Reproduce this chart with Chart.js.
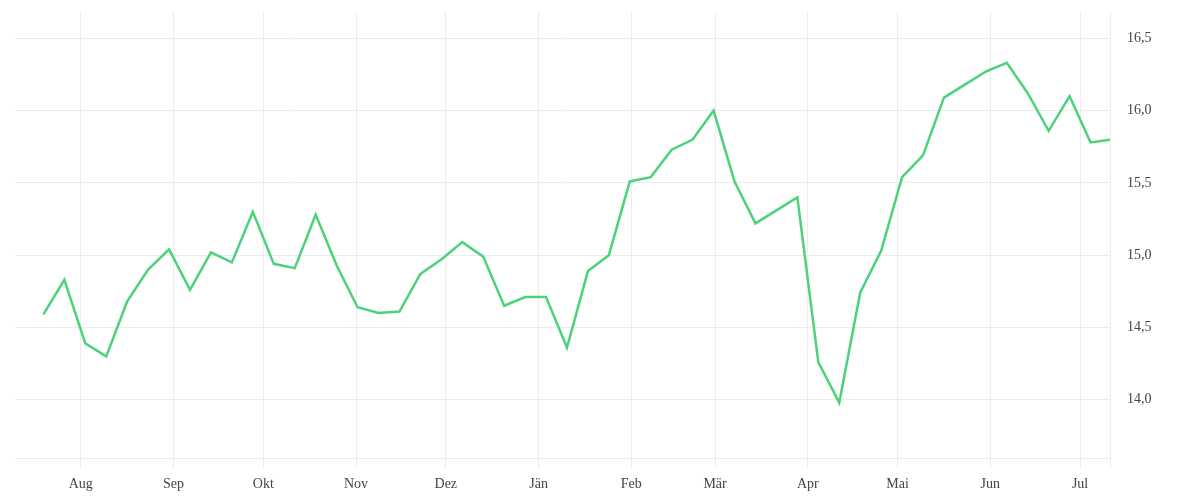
<!DOCTYPE html>
<html>
<head>
<meta charset="utf-8">
<script src="https://cdn.jsdelivr.net/npm/chart.js@4.4.0/dist/chart.umd.min.js"></script>
<style>
  html, body { margin: 0; padding: 0; background: #ffffff; }
  #wrap { width: 1200px; height: 500px; }
</style>
</head>
<body>
<div id="wrap"><canvas id="c" width="1200" height="500"></canvas></div>
<script>
// ---- data ----
const dates = [
  '2022-07-19','2022-07-26','2022-08-02','2022-08-09','2022-08-16','2022-08-23','2022-08-30',
  '2022-09-06','2022-09-13','2022-09-20','2022-09-27','2022-10-04','2022-10-11','2022-10-18',
  '2022-10-25','2022-11-01','2022-11-08','2022-11-15','2022-11-22','2022-11-29','2022-12-06',
  '2022-12-13','2022-12-20','2022-12-27','2023-01-03','2023-01-10','2023-01-17','2023-01-24',
  '2023-01-31','2023-02-07','2023-02-14','2023-02-21','2023-02-28','2023-03-07','2023-03-14',
  '2023-03-21','2023-03-28','2023-04-04','2023-04-11','2023-04-18','2023-04-25','2023-05-02',
  '2023-05-09','2023-05-16','2023-05-23','2023-05-30','2023-06-06','2023-06-13','2023-06-20',
  '2023-06-27','2023-07-04','2023-07-11'
];
const values = [
  14.59, 14.83, 14.39, 14.30, 14.68, 14.90, 15.04,
  14.76, 15.02, 14.95, 15.30, 14.94, 14.91, 15.28,
  14.93, 14.64, 14.60, 14.61, 14.87, 14.97, 15.09,
  14.99, 14.65, 14.71, 14.71, 14.36, 14.89, 15.00,
  15.51, 15.54, 15.73, 15.80, 16.00, 15.51, 15.22,
  15.31, 15.40, 14.26, 13.98, 14.74, 15.03, 15.54,
  15.69, 16.09, 16.18, 16.27, 16.33, 16.12, 15.86,
  16.10, 15.78, 15.80
];
const monthTickDates = [
  '2022-08-01','2022-09-01','2022-10-01','2022-11-01','2022-12-01','2023-01-01',
  '2023-02-01','2023-03-01','2023-04-01','2023-05-01','2023-06-01','2023-07-01'
];
const monthLabels = ['Aug','Sep','Okt','Nov','Dez','Jän','Feb','Mär','Apr','Mai','Jun','Jul'];
const xRange = ['2022-07-10', '2023-07-11'];
const yTicks = [14.0, 14.5, 15.0, 15.5, 16.0, 16.5];
const yRange = [13.597, 16.682];

// ---- helpers ----
function ts(s, hour) {
  const p = s.split('-').map(Number);
  return Date.UTC(p[0], p[1] - 1, p[2], hour || 0);
}
const points = dates.map((d, i) => ({ x: ts(d, 12), y: values[i] }));
const monthTicks = monthTickDates.map(d => ts(d));
const xMin = ts(xRange[0]);
const xMax = ts(xRange[1]);

const GRID = '#ececec';
const FONT = { family: "'Liberation Serif', serif", size: 14 };
const TEXT = '#444444';

new Chart(document.getElementById('c'), {
  type: 'line',
  data: {
    datasets: [{
      data: points,
      borderColor: '#4dd27c',
      borderWidth: 2.5,
      pointRadius: 0,
      pointHoverRadius: 0,
      tension: 0,
      fill: false
    }]
  },
  options: {
    responsive: false,
    animation: false,
    events: [],
    layout: { padding: { left: 15, top: 12, right: 0, bottom: 0 } },
    plugins: { legend: { display: false }, tooltip: { enabled: false } },
    scales: {
      x: {
        type: 'linear',
        min: xMin,
        max: xMax,
        grid: { color: GRID, tickColor: GRID, tickLength: 10, drawTicks: true },
        border: { display: true, color: GRID },
        ticks: {
          font: FONT,
          color: TEXT,
          padding: 8,
          autoSkip: false,
          maxRotation: 0,
          callback: function (v) {
            const i = monthTicks.indexOf(v);
            return i >= 0 ? monthLabels[i] : '';
          }
        },
        afterBuildTicks: function (scale) {
          scale.ticks = monthTicks.concat([xMax]).map(v => ({ value: v }));
        },
        afterFit: function (scale) {
          scale.height = 42;
          scale.paddingLeft = 0;
          scale.paddingRight = 0;
        }
      },
      y: {
        position: 'right',
        min: yRange[0],
        max: yRange[1],
        grid: { color: GRID, drawTicks: false },
        border: { display: false },
        ticks: {
          font: FONT,
          color: TEXT,
          padding: 17,
          callback: function (v) { return v.toFixed(1).replace('.', ','); }
        },
        afterBuildTicks: function (scale) {
          scale.ticks = yTicks.map(v => ({ value: v }));
        },
        afterFit: function (scale) {
          scale.width = 90;
          scale.paddingTop = 0;
          scale.paddingBottom = 0;
        }
      }
    }
  }
});
</script>
</body>
</html>
